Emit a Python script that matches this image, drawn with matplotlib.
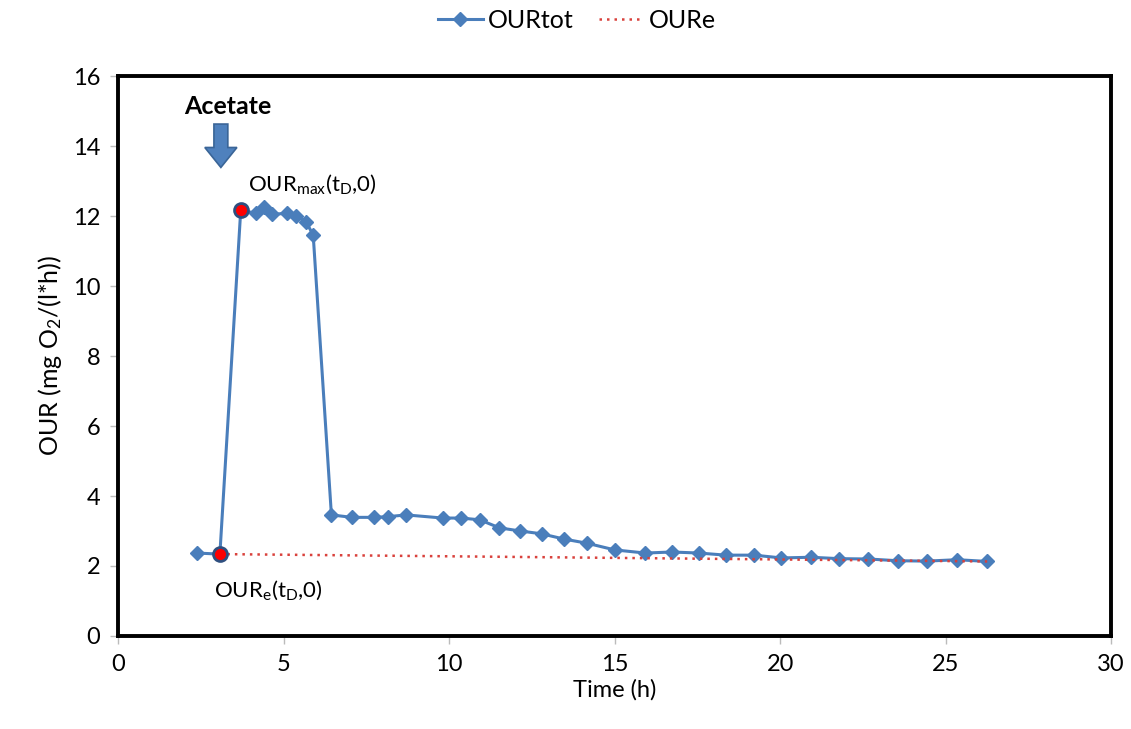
import matplotlib.pyplot as plt

plt.rcParams['font.family'] = ['Lato', 'DejaVu Sans']
plt.rcParams['mathtext.fontset'] = 'custom'
plt.rcParams['mathtext.rm'] = 'Lato'
plt.rcParams['mathtext.it'] = 'Lato'

# total oxygen uptake rate over time
time_tot = [2.37, 3.07, 3.70, 4.16, 4.40, 4.63, 5.11, 5.38, 5.67, 5.89,
            6.44, 7.06, 7.72, 8.15, 8.70, 9.81, 10.37, 10.92, 11.52, 12.15,
            12.79, 13.47, 14.17, 15.00, 15.93, 16.73, 17.55, 18.36, 19.22, 20.04,
            20.93, 21.78, 22.67, 23.56, 24.45, 25.35, 26.26]
our_tot = [2.37, 2.34, 12.17, 12.08, 12.25, 12.05, 12.08, 12.00, 11.84, 11.46,
           3.46, 3.39, 3.39, 3.41, 3.46, 3.37, 3.37, 3.32, 3.09, 3.00,
           2.92, 2.77, 2.65, 2.46, 2.37, 2.40, 2.37, 2.31, 2.31, 2.23,
           2.25, 2.21, 2.20, 2.15, 2.14, 2.18, 2.13]

# endogenous uptake rate (linear trend)
time_e = [3.07, 26.26]
our_e = [2.34, 2.13]

# highlighted points
t_max, our_max = 3.70, 12.17
t_e0, our_e0 = 3.07, 2.34

blue = '#4A7EBB'

fig = plt.figure(figsize=(11.31, 7.29), dpi=100)
ax = fig.add_axes([0.1046, 0.1276, 0.8777, 0.768])

ax.plot(time_tot, our_tot, color=blue, lw=2.2, marker='D', ms=7.5,
        label='OURtot', zorder=3)
ax.plot(time_e, our_e, color='#D9413C', lw=1.8, ls=(0, (1, 2)),
        label='OURe', zorder=4)
ax.plot([t_max, t_e0], [our_max, our_e0], 'o', ms=10, mfc='red',
        mec='#2F4F7F', mew=2, zorder=5)

ax.set_xlim(0, 30)
ax.set_ylim(0, 16)
ax.set_xticks(range(0, 31, 5))
ax.set_yticks(range(0, 17, 2))
ax.tick_params(labelsize=17, direction='out', length=6, width=1,
               color='#BBBBBB', pad=7)
for s in ax.spines.values():
    s.set_linewidth(2.8)
    s.set_color('black')

ax.set_xlabel('Time (h)', fontsize=17, labelpad=3)
ax.set_ylabel(r'OUR (mg O$_2$/(l*h))', fontsize=18, labelpad=6)

# acetate dosing marker
ax.text(3.31, 15.14, 'Acetate', fontsize=18, fontweight='bold',
        ha='center', va='center')
ax.arrow(3.10, 14.63, 0, -1.24, width=0.42, head_width=0.97,
         head_length=0.57, length_includes_head=True,
         fc='#4F81BD', ec='#3A6597', lw=1.2, zorder=4)

ax.text(3.91, 12.91, r'OUR$_{\mathrm{max}}$(t$_{\mathrm{D}}$,0)',
        fontsize=16, ha='left', va='center')
ax.text(2.89, 1.32, r'OUR$_{\mathrm{e}}$(t$_{\mathrm{D}}$,0)',
        fontsize=16, ha='left', va='center')

fig.legend(loc='center', bbox_to_anchor=(0.51, 0.972), ncol=2,
           frameon=False, fontsize=18, handlelength=1.8, columnspacing=1.0,
           handletextpad=0.2)

fig.savefig('out.png', dpi=100)
